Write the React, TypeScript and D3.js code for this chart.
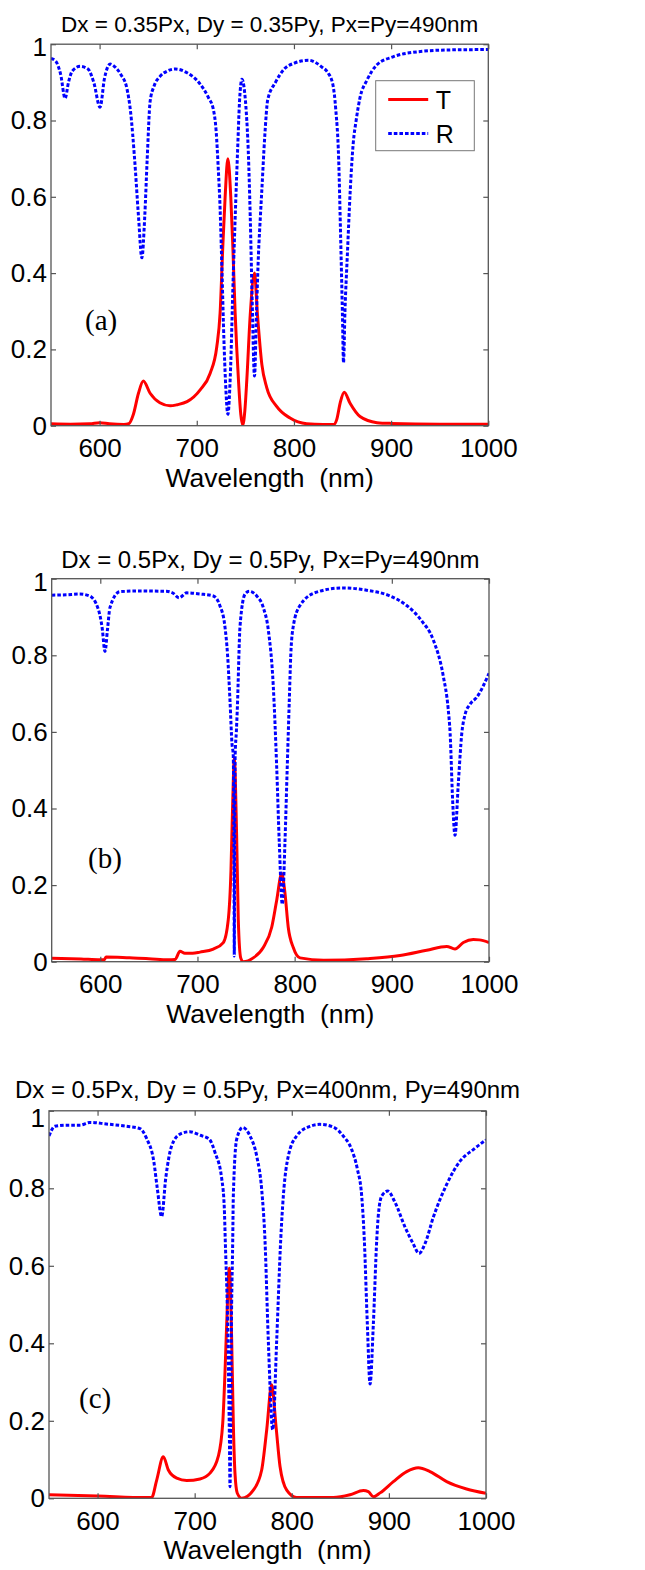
import React, { useEffect, useRef } from 'react';
import * as d3 from 'd3';

// (a)
const aTitle = 'Dx = 0.35Px, Dy = 0.35Py, Px=Py=490nm';
const aTWl = [550, 570, 590, 600, 610, 625, 630, 634.8, 640, 645, 652, 662, 672.6, 680, 690, 703.5, 713.7, 720.6, 724, 726.8, 729.2, 732, 735, 737.1, 739.5, 742.9, 745.3, 747.4, 749.5, 751.5, 755, 759.4, 762.5, 767, 772, 782.4, 796, 813, 830, 840.7, 844, 847.6, 851.7, 857.9, 868, 885.4, 900, 950, 1000];
const aT = [0.005, 0.004, 0.005, 0.008, 0.005, 0.003, 0.005, 0.03, 0.085, 0.117, 0.085, 0.06, 0.052, 0.055, 0.063, 0.094, 0.137, 0.207, 0.295, 0.47, 0.6, 0.7, 0.6, 0.47, 0.295, 0.12, 0.03, 0.002, 0.04, 0.12, 0.29, 0.4, 0.29, 0.16, 0.1, 0.05, 0.02, 0.005, 0.003, 0.003, 0.016, 0.06, 0.088, 0.058, 0.024, 0.008, 0.006, 0.004, 0.004];
const aRWl = [550, 555, 560, 564.5, 568, 572, 580, 588, 594, 600.5, 605, 611, 616, 622, 628, 632, 636, 640, 643.5, 646.5, 649, 652, 656, 662, 670, 678, 690, 703, 712, 717, 720, 722, 724, 726, 728, 729.5, 732, 734.5, 737.5, 740, 742, 744, 746.5, 749, 751, 753, 755, 757, 759.4, 761.5, 763.5, 765.5, 767, 770, 773, 781, 790, 800, 815, 828.8, 835, 840, 843, 846, 848, 850, 851, 852.5, 855, 858, 861, 864, 868, 875, 885, 902, 927, 960, 1000];
const aR = [0.963, 0.955, 0.92, 0.858, 0.9, 0.93, 0.942, 0.935, 0.9, 0.835, 0.91, 0.948, 0.94, 0.92, 0.885, 0.82, 0.7, 0.55, 0.44, 0.55, 0.7, 0.85, 0.89, 0.915, 0.93, 0.935, 0.925, 0.897, 0.86, 0.83, 0.77, 0.68, 0.57, 0.4, 0.22, 0.12, 0.03, 0.13, 0.39, 0.58, 0.72, 0.85, 0.908, 0.88, 0.82, 0.72, 0.55, 0.33, 0.13, 0.3, 0.45, 0.55, 0.62, 0.76, 0.854, 0.9, 0.935, 0.95, 0.958, 0.94, 0.925, 0.895, 0.83, 0.7, 0.5, 0.28, 0.165, 0.3, 0.45, 0.62, 0.74, 0.8, 0.86, 0.905, 0.945, 0.967, 0.98, 0.985, 0.986];

// (b)
const bTitle = 'Dx = 0.5Px, Dy = 0.5Py, Px=Py=490nm';
const bTWl = [550, 580, 600, 604, 606, 630, 650, 670, 677, 682, 687, 695, 702.6, 716.3, 726.6, 731.7, 734.5, 736.2, 737.9, 740.3, 742, 744.5, 747, 757.4, 767.7, 776.4, 781.5, 786.7, 790, 793.4, 798.6, 805.5, 830, 874, 908.4, 935.9, 956.5, 965, 973.6, 983.8, 990, 1000];
const bT = [0.009, 0.007, 0.005, 0.005, 0.012, 0.01, 0.008, 0.005, 0.006, 0.027, 0.022, 0.022, 0.025, 0.033, 0.05, 0.11, 0.24, 0.41, 0.53, 0.33, 0.11, 0.01, 0.0, 0.01, 0.037, 0.09, 0.16, 0.23, 0.18, 0.09, 0.037, 0.01, 0.004, 0.008, 0.016, 0.03, 0.04, 0.033, 0.05, 0.058, 0.057, 0.05];
const bRWl = [550, 565, 579, 589, 598, 602, 604.8, 607.5, 610, 620, 640, 668, 675, 681, 689, 702.6, 716.3, 723, 728, 731, 733.5, 735.5, 736.8, 737.6, 737.9, 738.2, 738.8, 740, 741, 743.8, 749, 753.3, 761, 767.7, 772.9, 778, 781.5, 784.2, 787.3, 790, 792.4, 794.5, 796, 798.6, 805.5, 822.7, 850, 874, 898, 915.3, 930.7, 942.7, 953, 958, 960, 962.6, 965, 968.4, 972, 975.3, 980.4, 987.3, 1000];
const bR = [0.957, 0.958, 0.96, 0.955, 0.92, 0.87, 0.81, 0.87, 0.925, 0.966, 0.968, 0.967, 0.962, 0.95, 0.963, 0.96, 0.955, 0.93, 0.88, 0.8, 0.68, 0.57, 0.54, 0.25, 0.015, 0.25, 0.54, 0.6, 0.66, 0.876, 0.96, 0.967, 0.955, 0.925, 0.866, 0.72, 0.51, 0.31, 0.15, 0.31, 0.51, 0.683, 0.8, 0.876, 0.93, 0.965, 0.976, 0.97, 0.955, 0.93, 0.89, 0.84, 0.745, 0.66, 0.596, 0.42, 0.33, 0.465, 0.596, 0.645, 0.672, 0.69, 0.753];

// (c)
const cTitle = 'Dx = 0.5Px, Dy = 0.5Py, Px=400nm, Py=490nm';
const cTWl = [550, 600, 650, 655.7, 660.9, 667.7, 672.9, 681.5, 691.8, 705.5, 715.8, 724.3, 728.9, 731.2, 733, 735.7, 738.1, 739.8, 741.5, 743.9, 748.4, 760.4, 769, 774.2, 779.3, 783.8, 787.9, 794.8, 805, 842.8, 860, 873.7, 878.8, 884, 890.9, 904.6, 918.3, 930.3, 942.3, 959.5, 980, 1000];
const cT = [0.009, 0.006, 0.002, 0.002, 0.047, 0.107, 0.073, 0.052, 0.046, 0.05, 0.065, 0.108, 0.194, 0.323, 0.452, 0.594, 0.41, 0.194, 0.065, 0.013, 0.0, 0.021, 0.073, 0.177, 0.293, 0.185, 0.082, 0.021, 0.002, 0.002, 0.009, 0.02, 0.017, 0.004, 0.014, 0.043, 0.069, 0.079, 0.069, 0.043, 0.024, 0.013];
const cRWl = [550, 556, 568, 582, 592, 609, 630, 643.7, 650.6, 658, 661.5, 666, 670.2, 676.4, 685, 695, 705.5, 715, 721, 727.8, 730.5, 731.5, 734.3, 735.8, 736.4, 737, 737.7, 739.2, 739.8, 743.3, 749.5, 757, 763.9, 769, 772.4, 775.8, 780.4, 784.5, 788.6, 791.3, 796.4, 805, 818.8, 829, 842.8, 853, 861.7, 867.5, 872, 874.7, 877.8, 880.6, 884, 887.5, 889.1, 892.6, 898.8, 906.3, 916.6, 925, 931, 937.2, 945.7, 959.5, 973.2, 986.9, 1000];
const cR = [0.935, 0.96, 0.963, 0.963, 0.97, 0.966, 0.96, 0.954, 0.928, 0.868, 0.8, 0.727, 0.826, 0.91, 0.94, 0.946, 0.937, 0.927, 0.892, 0.826, 0.75, 0.667, 0.41, 0.15, 0.03, 0.15, 0.41, 0.667, 0.78, 0.927, 0.957, 0.935, 0.883, 0.797, 0.667, 0.41, 0.177, 0.41, 0.667, 0.78, 0.883, 0.935, 0.96, 0.965, 0.958, 0.935, 0.9, 0.85, 0.78, 0.667, 0.45, 0.295, 0.45, 0.667, 0.73, 0.78, 0.793, 0.764, 0.7, 0.657, 0.632, 0.657, 0.725, 0.81, 0.87, 0.9, 0.925];

const yTicks = [0, 0.2, 0.4, 0.6, 0.8, 1];
const xTicks = [600, 700, 800, 900, 1000];
const legendLabels = ['T', 'R'];
const xLabel = 'Wavelength  (nm)';

const panels = [
  { title: aTitle, titleSize: 22.5, tag: '(a)', tWl: aTWl, t: aT, rWl: aRWl, r: aR, left: 51, right: 488.3, top: 44.2, bottom: 425.7, titleY: 32, xLabelY: 487, tagX: 85, tagY: 330, topLabelShift: 3, legend: true },
  { title: bTitle, titleSize: 24, tag: '(b)', tWl: bTWl, t: bT, rWl: bRWl, r: bR, left: 51.7, right: 489, top: 578.7, bottom: 961.7, titleY: 568, xLabelY: 1023, tagX: 88, tagY: 868, topLabelShift: 3, legend: false },
  { title: cTitle, titleSize: 24, tag: '(c)', tWl: cTWl, t: cT, rWl: cRWl, r: cR, left: 49, right: 486, top: 1110.8, bottom: 1498.3, titleY: 1098, xLabelY: 1559, tagX: 79, tagY: 1408, topLabelShift: 7, legend: false },
];

const SANS = '"Liberation Sans", Arial, Helvetica, sans-serif';
const SERIF = '"Liberation Serif", "Times New Roman", serif';
const RED = '#ff0000';
const BLUE = '#0000ff';
const FRAME = '#555';
const DASH = '3.6 2';

export default function App() {
  const ref = useRef<HTMLDivElement>(null);

  useEffect(() => {
    const root = d3.select(ref.current);
    root.select('svg').remove();

    const svg = root
      .append('svg')
      .attr('width', 645)
      .attr('height', 1570)
      .style('display', 'block')
      .style('background', '#fff');

    panels.forEach((p, i) => {
      const x = d3.scaleLinear().domain([550, 1000]).range([p.left, p.right]);
      const y = d3.scaleLinear().domain([0, 1]).range([p.bottom, p.top]);
      const g = svg.append('g');

      const clipId = `plot-clip-${i}`;
      svg
        .append('clipPath')
        .attr('id', clipId)
        .append('rect')
        .attr('x', p.left)
        .attr('y', p.top - 2)
        .attr('width', p.right - p.left)
        .attr('height', p.bottom - p.top + 2);

      const line = d3
        .line<[number, number]>()
        .x(d => x(d[0]))
        .y(d => y(d[1]))
        .curve(d3.curveMonotoneX);

      const plot = g.append('g').attr('clip-path', `url(#${clipId})`);
      plot
        .append('path')
        .datum(d3.zip(p.tWl, p.t) as [number, number][])
        .attr('d', line)
        .attr('fill', 'none')
        .attr('stroke', RED)
        .attr('stroke-width', 3)
        .attr('stroke-linejoin', 'round');
      plot
        .append('path')
        .datum(d3.zip(p.rWl, p.r) as [number, number][])
        .attr('d', line)
        .attr('fill', 'none')
        .attr('stroke', BLUE)
        .attr('stroke-width', 3)
        .attr('stroke-dasharray', DASH);

      // axes, ticks pointing inward like MATLAB's box
      const styleAxis = (a: d3.Selection<SVGGElement, unknown, null, undefined>) => {
        a.select('.domain').remove();
        a.selectAll('.tick line').attr('stroke', FRAME).attr('stroke-width', 1.2);
        a.selectAll('.tick text')
          .attr('fill', '#000')
          .attr('font-family', SANS)
          .attr('font-size', 26);
      };
      g.append('g')
        .attr('transform', `translate(0,${p.bottom})`)
        .call(d3.axisBottom(x).tickValues(xTicks).tickSize(-5).tickPadding(13).tickFormat(d3.format('d')))
        .call(styleAxis);
      g.append('g')
        .attr('transform', `translate(0,${p.top})`)
        .call(d3.axisTop(x).tickValues(xTicks).tickSize(-5).tickFormat(() => ''))
        .call(styleAxis);
      const left = g.append('g')
        .attr('transform', `translate(${p.left},0)`)
        .call(d3.axisLeft(y).tickValues(yTicks).tickSize(-5).tickPadding(4).tickFormat(d => d3.format('~g')(d as number)))
        .call(styleAxis);
      // the top "1" sits a little low in the original
      left.selectAll<SVGTextElement, number>('.tick text')
        .filter(d => d === 1)
        .attr('y', p.topLabelShift);
      g.append('g')
        .attr('transform', `translate(${p.right},0)`)
        .call(d3.axisRight(y).tickValues(yTicks).tickSize(-5).tickFormat(() => ''))
        .call(styleAxis);

      g.append('rect')
        .attr('x', p.left)
        .attr('y', p.top)
        .attr('width', p.right - p.left)
        .attr('height', p.bottom - p.top)
        .attr('fill', 'none')
        .attr('stroke', FRAME)
        .attr('stroke-width', 1.3);

      const cx = (p.left + p.right) / 2;
      g.append('text')
        .attr('x', cx)
        .attr('y', p.titleY)
        .attr('text-anchor', 'middle')
        .attr('font-family', SANS)
        .attr('font-size', p.titleSize)
        .text(p.title);

      g.append('text')
        .attr('x', cx)
        .attr('y', p.xLabelY)
        .attr('text-anchor', 'middle')
        .attr('font-family', SANS)
        .attr('font-size', 26.5)
        .style('white-space', 'pre')
        .text(xLabel);

      g.append('text')
        .attr('x', p.tagX)
        .attr('y', p.tagY)
        .attr('font-family', SERIF)
        .attr('font-size', 29)
        .text(p.tag);

      if (p.legend) {
        const lx = p.left + 324.7;
        const ly = p.top + 36.5;
        const lg = g.append('g');
        lg.append('rect')
          .attr('x', lx)
          .attr('y', ly)
          .attr('width', 98.6)
          .attr('height', 70)
          .attr('fill', '#fff')
          .attr('stroke', '#777')
          .attr('stroke-width', 1);
        legendLabels.forEach((name, k) => {
          const yy = ly + 18.8 + k * 34;
          lg.append('line')
            .attr('x1', lx + 12.5)
            .attr('x2', lx + 52.5)
            .attr('y1', yy)
            .attr('y2', yy)
            .attr('stroke', k === 0 ? RED : BLUE)
            .attr('stroke-width', 3)
            .attr('stroke-dasharray', k === 0 ? null : DASH);
          lg.append('text')
            .attr('x', lx + 60)
            .attr('y', yy + 9)
            .attr('font-family', SANS)
            .attr('font-size', 25)
            .text(name);
        });
      }
    });
  }, []);

  return <div ref={ref} style={{ position: 'absolute', left: 0, top: 0 }} />;
}
